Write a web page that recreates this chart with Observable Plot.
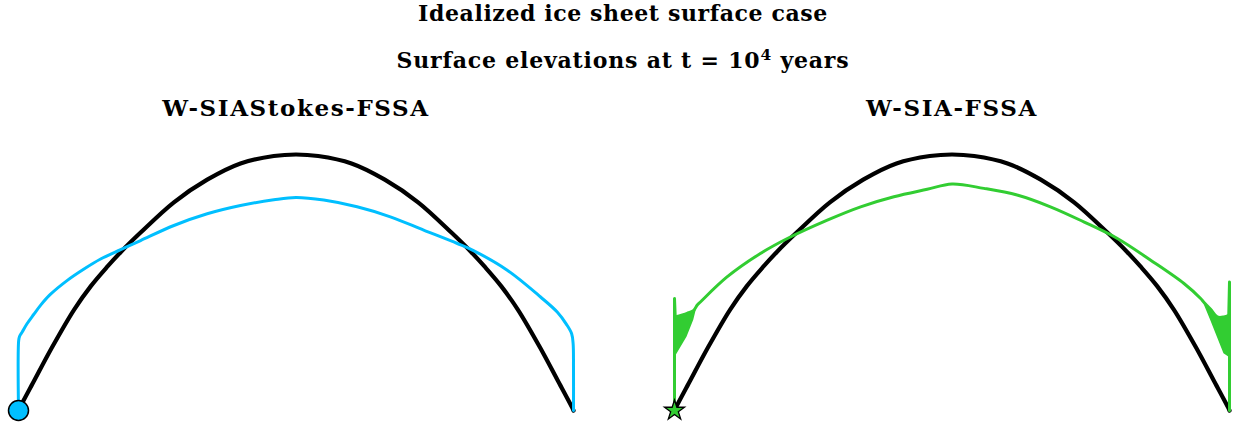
<!DOCTYPE html>
<html>
<head>
<meta charset="utf-8">
<script src="https://cdn.jsdelivr.net/npm/d3@7"></script>
<script src="https://cdn.jsdelivr.net/npm/@observablehq/plot@0.6"></script>
<style>
  html, body { margin: 0; padding: 0; background: #fff; }
  #wrap { position: relative; width: 1246px; height: 426px; overflow: hidden; background: #fff; }
  .t { position: absolute; white-space: nowrap; transform: translate(-50%, -50%); line-height: 1;
       font-family: "DejaVu Serif", serif; font-weight: bold; color: #000; }
  .t sup { font-size: 0.7em; vertical-align: 0.55em; line-height: 0; }
  .panel { position: absolute; top: 0; }
</style>
</head>
<body>
<div id="wrap"></div>
<script>
// Distance from divide (km) and surface elevation (m)
// Initial (idealized) surface
const initialX = [-750,-745,-710,-660,-600,-555,-510,-474,-420,-330,-240,-150,-60,0,60,150,240,330,420,474,510,555,600,660,710,745,750];
const initialH = [0,45,330,735,1180,1455,1685,1855,2085,2440,2705,2895,2982,3000,2982,2895,2705,2440,2085,1855,1685,1455,1180,735,330,45,0];

// W-SIAStokes-FSSA surface at t = 1e4 years
const stokesX = [-750,-749.5,-747,-740,-727,-709,-690,-664,-618,-574,-528,-474,-420,-330,-240,-150,-60,0,75,165,255,345,436,481,571,661,706,731,745,749,750,750];
const stokesH = [0,820,870,920,1016,1125,1235,1360,1525,1655,1775,1885,1992,2168,2305,2402,2469,2496,2466,2387,2270,2114,1957,1871,1644,1330,1154,1010,900,783,508,0];

// W-SIA-FSSA surface at t = 1e4 years (smooth interior part)
const sianX = [-748,-716,-698,-689,-680,-608,-518,-445,-337,-247,-157,-67,0,86,176,266,356,447,537,627,672,680,699,717,735,748];
const sianH = [1096,1139,1174,1233,1272,1565,1840,2016,2231,2387,2505,2592,2654,2603,2525,2387,2211,2016,1761,1488,1312,1272,1186,1096,1096,1115];

// W-SIA-FSSA spikes at the two margins
const spikeSide = ["L","L","L","R","R","R"];
const spikeX = [-750,-750,-748, 748, 750, 750];
const spikeH = [0, 1312, 1096, 1115, 1506, 0];

// Envelope of the oscillating W-SIA-FSSA solution near the margins
const bandSide = ["L","L","L","L","L","R","R","R","R","R"];
const bandX    = [-750,-748,-716,-698,-689, 680, 699, 717, 735, 748];
const bandLow  = [607, 626, 861,1057,1213,1256,1057, 861, 666, 626];
const bandHigh = [1096,1096,1139,1174,1233,1272,1186,1096,1096,1115];

// Margin markers
const markerX = [-750];
const markerH = [0];

const panelTitles = ["W-SIAStokes-FSSA", "W-SIA-FSSA"];
const blue = "#00BFFF", green = "#32CD32";

const toRows = (xs, hs) => xs.map((x, i) => ({x, h: hs[i]}));
const initial = toRows(initialX, initialH);
const stokes = toRows(stokesX, stokesH);
const sian = toRows(sianX, sianH);
const spikes = spikeX.map((x, i) => ({side: spikeSide[i], x, h: spikeH[i]}));
const band = bandX.map((x, i) => ({side: bandSide[i], x, lo: bandLow[i], hi: bandHigh[i]}));
const marker = toRows(markerX, markerH);

const wrap = document.getElementById("wrap");

function makePanel(marks, mLeft, mRight) {
  return Plot.plot({
    width: 623, height: 426,
    marginLeft: mLeft, marginRight: mRight, marginTop: 154, marginBottom: 16,
    x: {domain: [-750, 750], axis: null},
    y: {domain: [0, 3000], axis: null},
    style: {background: "transparent", overflow: "visible"},
    marks
  });
}

const left = makePanel([
  Plot.line(initial, {x: "x", y: "h", stroke: "black", strokeWidth: 4.2, curve: "catmull-rom"}),
  Plot.line(stokes, {x: "x", y: "h", stroke: blue, strokeWidth: 3, curve: "catmull-rom", strokeLinejoin: "round"}),
  Plot.dot(marker, {x: "x", y: "h", r: 10, fill: blue, stroke: "black", strokeWidth: 1.5})
], 18, 50);
left.classList.add("panel");
left.style.left = "0px";
wrap.appendChild(left);

const right = makePanel([
  Plot.line(initial, {x: "x", y: "h", stroke: "black", strokeWidth: 4.2, curve: "catmull-rom"}),
  Plot.areaY(band, {x: "x", y1: "lo", y2: "hi", z: "side", fill: green}),
  Plot.line(spikes, {x: "x", y: "h", z: "side", stroke: green, strokeWidth: 3, strokeLinejoin: "round"}),
  Plot.line(sian, {x: "x", y: "h", stroke: green, strokeWidth: 3, curve: "catmull-rom", strokeLinejoin: "round"}),
  Plot.dot(marker, {x: "x", y: "h", r: 6.3, symbol: "star", fill: green, stroke: "black", strokeWidth: 1.3})
], 51, 17);
right.classList.add("panel");
right.style.left = "623px";
wrap.appendChild(right);

function addText(html, cx, cy, size, ls) {
  const d = document.createElement("div");
  d.className = "t";
  d.innerHTML = html;
  d.style.left = cx + "px";
  d.style.top = cy + "px";
  d.style.fontSize = size + "px";
  d.style.letterSpacing = ls + "px";
  wrap.appendChild(d);
  return d;
}
addText("Idealized ice sheet surface case", 623, 13, 22, 0.6);
addText("Surface elevations at t = 10<sup>4</sup> years", 623, 60, 22, 0.8);
addText(panelTitles[0], 296, 107, 23, 1.6);
addText(panelTitles[1], 952, 107, 23, 1.6);
</script>
</body>
</html>
